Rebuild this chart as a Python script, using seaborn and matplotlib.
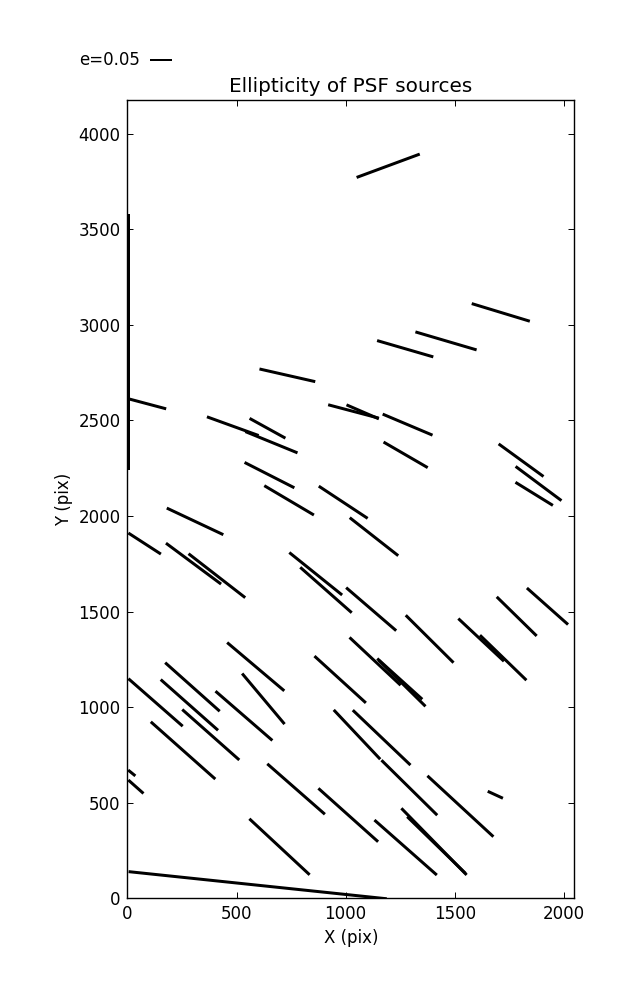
import numpy as np
import matplotlib
matplotlib.use("Agg")
import matplotlib.pyplot as plt
import seaborn as sns

# --- PSF source positions (pix), ellipticity and position angle (deg) ---
x_pix = [1195, 4, 91, 733, 1273, 1460, 1711, 483, 642, 660,
         1036, 1078, 1284, 1275, 1804, 1884, 1864, 651, 741, 989,
         310, 79, 303, 410, 1130, 863, 910, 1117, 1784, 1925,
         1385, 1621, 1722, 1135, 1248, 1259, 588, 975, 298, 129,
         284, 623, 534, 382, 255, 1052, 1165, 1292, 1526, 1686,
         20, 39, 773, 1012, 697, 1275, 1405, 1416, 597]
y_pix = [3832, 2912, 2587, 2736, 2875, 2916, 3065, 2470, 2459, 2386,
         2547, 2545, 2478, 2320, 2292, 2170, 2116, 2214, 2082, 2072,
         1972, 1856, 1751, 1688, 1892, 1698, 1613, 1513, 1475, 1528,
         1357, 1352, 1259, 1240, 1148, 1125, 1212, 1145, 1106, 1025,
         1012, 1044, 955, 856, 774, 857, 841, 579, 482, 542,
         656, 584, 572, 436, 270, 266, 297, 279, 69]
ellip = [0.153, 0.582, 0.089, 0.130, 0.133, 0.145, 0.138, 0.125, 0.093, 0.128,
         0.119, 0.080, 0.123, 0.116, 0.126, 0.130, 0.100, 0.127, 0.131, 0.133,
         0.142, 0.088, 0.156, 0.163, 0.140, 0.154, 0.156, 0.150, 0.127, 0.125,
         0.153, 0.142, 0.147, 0.159, 0.138, 0.149, 0.170, 0.158, 0.166, 0.164,
         0.174, 0.150, 0.171, 0.173, 0.196, 0.154, 0.181, 0.178, 0.204, 0.038,
         0.021, 0.046, 0.174, 0.182, 0.187, 0.189, 0.212, 0.185, 0.590]
theta = [20.3, 90, -14.9, -12.8, -16.2, -16.4, -16.9, -19.9, -28.9, -22.2,
         -14.8, -23.4, -22.9, -30.1, -36.0, -36.7, -31.7, -27.0, -30.6, -33.4,
         -25.2, -32.9, -36.6, -37.8, -38.1, -38.8, -41.4, -40.7, -44.4, -41.6,
         -44.8, -43.1, -44.1, -43.1, -42.1, -44.6, -40.2, -42.3, -41.7, -41.2,
         -41.5, -50.0, -40.9, -41.5, -41.6, -46.7, -43.6, -44.6, -42.7, -24.7,
         -39.2, -41.6, -41.2, -41.8, -42.9, -41.4, -45.6, -44.2, -6.0]

key_e = 0.05

sns.set_style("ticks", {"xtick.direction": "in", "ytick.direction": "in",
                        "axes.edgecolor": "black"})
plt.rcParams.update({"font.family": ["DejaVu Sans"], "font.size": 12,
                     "xtick.top": True, "ytick.right": True,
                     "axes.linewidth": 1.0, "text.color": "black",
                     "axes.labelcolor": "black"})

px = np.array(x_pix)
py = np.array(y_pix)
e = np.array(ellip)
t = np.deg2rad(theta)

fig = plt.figure(figsize=(6.37, 10), dpi=100)
ax = fig.add_axes([0.2, 0.1016, 0.7016, 0.7984])

# headless quiver = ellipticity whiskers, 0.05 -> 0.22 inch
q = ax.quiver(px, py, e * np.cos(t), e * np.sin(t),
              pivot="middle", headwidth=0, headlength=0, headaxislength=0,
              scale_units="inches", scale=0.05 / 0.22, width=0.0067,
              color="black")
ax.quiverkey(q, 0.2355, 0.94, key_e, "e=0.05", labelpos="W",
             coordinates="figure", fontproperties={"size": 12})

ax.set_xlim(0, 2048)
ax.set_ylim(0, 4176)
ax.set_xticks(np.arange(0, 2001, 500))
ax.set_yticks(np.arange(0, 4001, 500))
ax.tick_params(direction="in", length=4.3, width=0.7, pad=5, labelsize=12,
               top=True, right=True, colors="black")
ax.set_xlabel("X (pix)", fontsize=12)
ax.set_ylabel("Y (pix)", fontsize=12)
ax.set_title("Ellipticity of PSF sources", fontsize=14.4, pad=6)

plt.savefig("out.png", dpi=100)
